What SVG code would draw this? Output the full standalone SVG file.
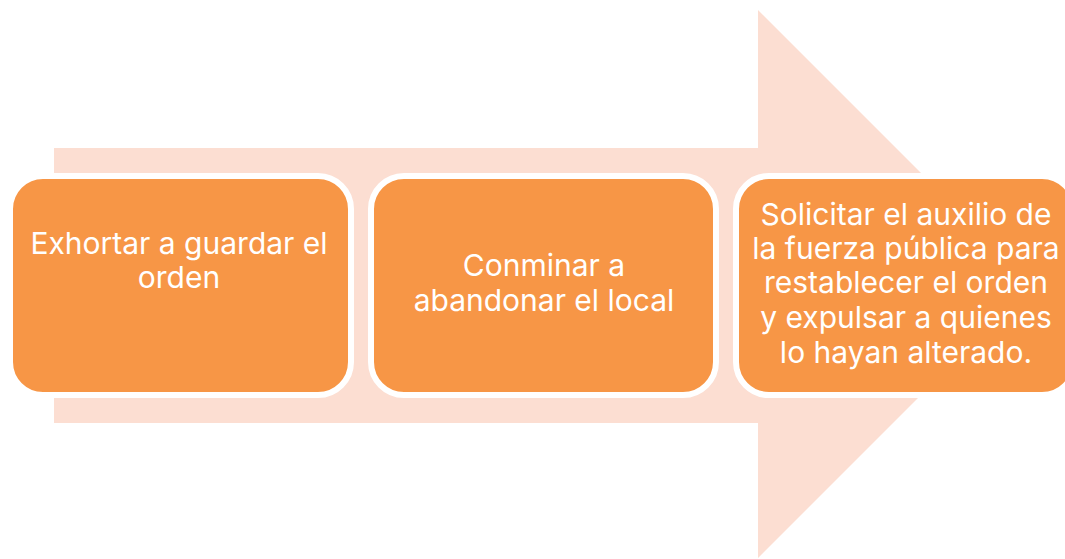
<svg xmlns="http://www.w3.org/2000/svg" width="1065" height="559" viewBox="0 0 1065 559">
<style>
.arrow{fill:#FCDED2}
.box{fill:#F79646;stroke:#FFFFFF;stroke-width:6}
.lbl{fill:#FFFFFF;font-family:Inter,"Noto Sans","Liberation Sans",sans-serif;font-size:30px;text-anchor:middle}
</style>
<rect width="1065" height="559" fill="#FFFFFF"/>
<g id="connectors">
<polygon class="arrow" points="54,148 758,148 758,10 1032,284 758,558 758,423 54,423"/>
</g>
<g id="node1">
<rect class="box" x="10" y="176" width="341" height="219" rx="33" ry="33"/>
<text class="lbl" x="179" y="254">Exhortar a guardar el</text>
<text class="lbl" x="179" y="288">orden</text>
</g>
<g id="node2">
<rect class="box" x="371" y="176" width="345" height="219" rx="33" ry="33"/>
<text class="lbl" x="544" y="276">Conminar a</text>
<text class="lbl" x="544" y="311">abandonar el local</text>
</g>
<g id="node3">
<rect class="box" x="736" y="176" width="339" height="219" rx="33" ry="33"/>
<text class="lbl" x="906" y="225">Solicitar el auxilio de</text>
<text class="lbl" x="906" y="259">la fuerza pública para</text>
<text class="lbl" x="906" y="293">restablecer el orden</text>
<text class="lbl" x="906" y="328">y expulsar a quienes</text>
<text class="lbl" x="906" y="363">lo hayan alterado.</text>
</g>
</svg>
